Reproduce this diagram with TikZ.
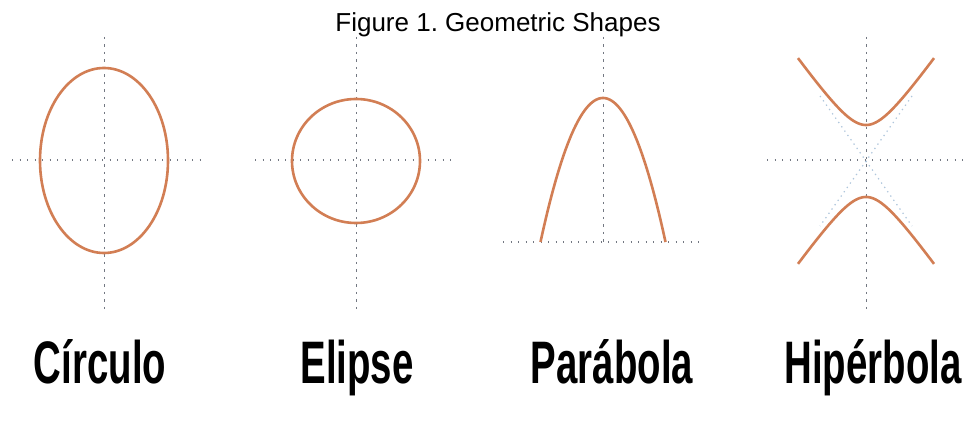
\documentclass[tikz,border=0pt]{standalone}
\usepackage{fontspec}
\setmainfont{Liberation Sans}
\definecolor{curve}{RGB}{210,126,84}
\definecolor{axisgrey}{RGB}{115,120,130}
\definecolor{asym}{RGB}{175,198,220}
\tikzset{
  curvestyle/.style={draw=curve, line width=2.6pt},
  vaxis/.style={draw=axisgrey, line width=1pt, dash pattern=on 2.5pt off 5pt},
  haxis/.style={draw=axisgrey, line width=1.3pt, dash pattern=on 1.3pt off 6.2pt},
  asymline/.style={draw=asym, line width=1.2pt, dash pattern=on 1.3pt off 4pt},
  biglabel/.style={anchor=base, inner sep=0pt, font=\fontsize{60}{60}\selectfont\bfseries},
}
\frenchspacing
\begin{document}
\begin{tikzpicture}[x=1pt,y=-1pt]
\useasboundingbox[fill=white] (0,0) rectangle (974,443);
% title
\node[anchor=base, inner sep=0pt, font=\fontsize{26}{26}\selectfont] (title) at (498,31.5) {Figure 1. Geometric Shapes};
% ---- Circulo panel
\coordinate (c1t) at (104,37); \coordinate (c1b) at (104,310);
\coordinate (c1l) at (12,160); \coordinate (c1r) at (204,160);
\draw[vaxis] (c1t) -- (c1b);
\draw[haxis] (c1l) -- (c1r);
\draw[curvestyle] (104,160.5) ellipse [x radius=64, y radius=92.5];
\node[biglabel] (lab1) at (100,383) {\scalebox{0.64}[1]{Círculo}};
% ---- Elipse panel
\coordinate (c2t) at (356,37); \coordinate (c2b) at (356,310);
\coordinate (c2l) at (255,160); \coordinate (c2r) at (455,160);
\draw[vaxis] (c2t) -- (c2b);
\draw[haxis] (c2l) -- (c2r);
\draw[curvestyle] (356,161) ellipse [x radius=64, y radius=62];
\node[biglabel] (lab2) at (357,383) {\scalebox{0.64}[1]{Elipse}};
% ---- Parabola panel
\coordinate (c3t) at (603,37); \coordinate (c3b) at (603,242);
\coordinate (c3l) at (503,242); \coordinate (c3r) at (702,242);
\draw[vaxis] (c3t) -- (c3b);
\draw[haxis] (c3l) -- (c3r);
\draw[curvestyle] plot[domain=-62.5:62.5, samples=80, smooth] ({603+\x},{98+144*(\x/62.5)^2});
\node[biglabel] (lab3) at (612,383) {\scalebox{0.64}[1]{Parábola}};
% ---- Hiperbola panel
\coordinate (c4t) at (866,37); \coordinate (c4b) at (866,310);
\coordinate (c4l) at (767,160); \coordinate (c4r) at (968,160);
\coordinate (a1) at (820,96); \coordinate (a2) at (912,226);
\coordinate (a3) at (912,96); \coordinate (a4) at (820,226);
\draw[asymline] (a1) -- (a2);
\draw[asymline] (a3) -- (a4);
\draw[vaxis] (c4t) -- (c4b);
\draw[haxis] (c4l) -- (c4r);
\draw[curvestyle] plot[domain=-68:68, samples=80, smooth] ({866+\x},{161-36*sqrt(1+(\x/25.4)^2)});
\draw[curvestyle] plot[domain=-68:68, samples=80, smooth] ({866+\x},{161+36*sqrt(1+(\x/25.4)^2)});
\node[biglabel] (lab4) at (873,383) {\scalebox{0.64}[1]{Hipérbola}};
\end{tikzpicture}
\end{document}
